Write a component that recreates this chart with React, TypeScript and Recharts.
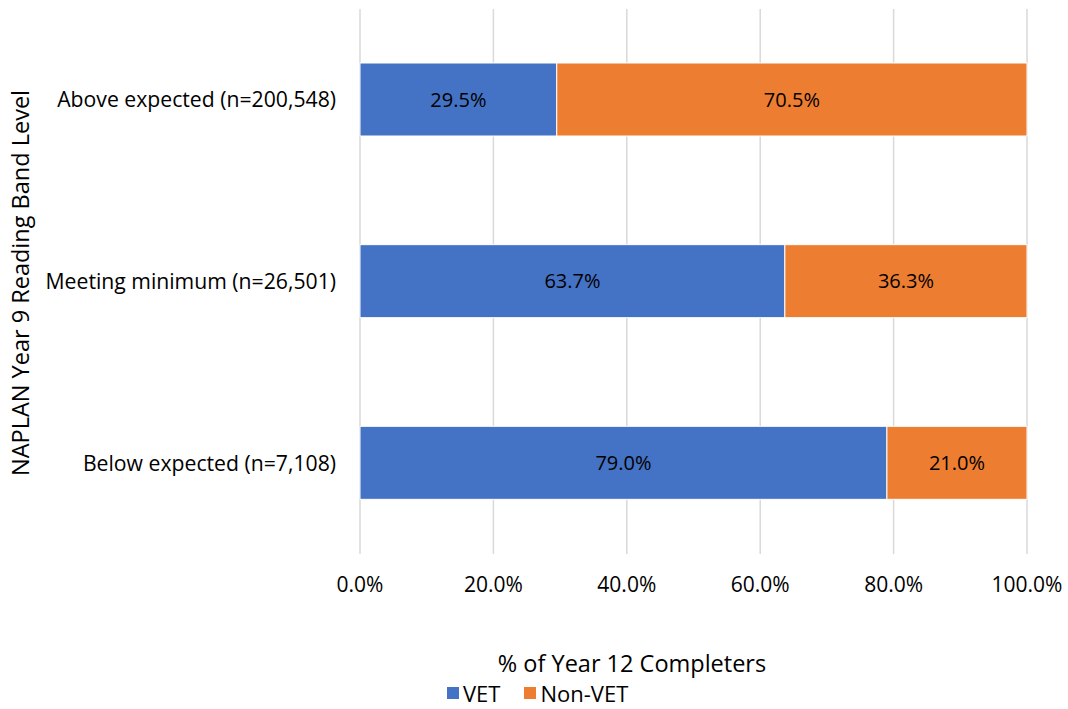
import { Bar, BarChart, CartesianGrid, LabelList, Legend, XAxis, YAxis } from "recharts";

const categories = [
  "Above expected (n=200,548)",
  "Meeting minimum (n=26,501)",
  "Below expected (n=7,108)",
];
const vetShare = [29.5, 63.7, 79.0];
const nonVetShare = [70.5, 36.3, 21.0];
const xTicks = [0, 20, 40, 60, 80, 100];
const seriesOrder = ["VET", "Non-VET"];

const FONT = "'Open Sans', Lato, sans-serif";
const LABEL_SIZE = 20;
const TICK_SIZE = 21;
const CATEGORY_SIZE = 21.2;
const TITLE_SIZE = 23.5;
const LEGEND_SIZE = 22;
const VET_COLOR = "#4472C4";
const NON_VET_COLOR = "#ED7D31";

const rows = categories.map((name, i) => ({
  name,
  vet: vetShare[i],
  nonVet: nonVetShare[i],
}));

const pct = (v: number) => `${Number(v).toFixed(1)}%`;

function LegendRow({ payload }: { payload?: { value: string; color: string }[] }) {
  const items = [...(payload ?? [])].sort(
    (a, b) => seriesOrder.indexOf(a.value) - seriesOrder.indexOf(b.value)
  );
  return (
    <div style={{ display: "flex", alignItems: "center", fontFamily: FONT, fontSize: LEGEND_SIZE }}>
      {items.map((item) => (
        <div key={item.value} style={{ display: "flex", alignItems: "center", marginRight: 24 }}>
          <span style={{ width: 12, height: 12, background: item.color, marginRight: 4 }} />
          <span style={{ color: "#000", lineHeight: "20px" }}>{item.value}</span>
        </div>
      ))}
    </div>
  );
}

export default function App() {
  return (
    <div style={{ position: "absolute", left: 0, top: 0, width: 1068, height: 709, background: "#fff", fontFamily: FONT }}>
      <BarChart
        width={1068}
        height={709}
        data={rows}
        layout="vertical"
        // bottom margin leaves room for the legend height recharts adds on its own
        margin={{ top: 9, right: 41, bottom: 125, left: 0 }}
        barSize={73}
      >
        <CartesianGrid horizontal={false} stroke="#D9D9D9" strokeWidth={1.5} />
        <XAxis
          type="number"
          domain={[0, 100]}
          ticks={xTicks}
          tickFormatter={pct}
          axisLine={false}
          tickLine={false}
          tickSize={0}
          tickMargin={23}
          tick={{ fill: "#000", fontSize: TICK_SIZE, fontFamily: FONT }}
          interval={0}
        />
        <YAxis
          type="category"
          dataKey="name"
          width={360}
          axisLine={false}
          tickLine={false}
          tickSize={0}
          tickMargin={24}
          tick={{ fill: "#000", fontSize: CATEGORY_SIZE, fontFamily: FONT }}
          interval={0}
        />
        <Legend
          verticalAlign="middle"
          align="center"
          content={<LegendRow />}
          wrapperStyle={{ left: 447, top: 683, width: 260 }}
        />
        <Bar dataKey="vet" name="VET" stackId="a" fill={VET_COLOR} stroke="#fff" strokeWidth={1} isAnimationActive={false}>
          <LabelList dataKey="vet" position="center" formatter={pct} fill="#000" fontSize={LABEL_SIZE} fontFamily={FONT} />
        </Bar>
        <Bar dataKey="nonVet" name="Non-VET" stackId="a" fill={NON_VET_COLOR} stroke="#fff" strokeWidth={1} isAnimationActive={false}>
          <LabelList dataKey="nonVet" position="center" formatter={pct} fill="#000" fontSize={LABEL_SIZE} fontFamily={FONT} />
        </Bar>
        <text x={632} y={663} textAnchor="middle" dominantBaseline="central" fontSize={TITLE_SIZE} fontFamily={FONT} fill="#000">
          % of Year 12 Completers
        </text>
        <text
          x={20}
          y={283}
          textAnchor="middle"
          dominantBaseline="central"
          fontSize={TITLE_SIZE}
          fontFamily={FONT}
          fill="#000"
          transform="rotate(-90 20 283)"
        >
          NAPLAN Year 9 Reading Band Level
        </text>
      </BarChart>
    </div>
  );
}
